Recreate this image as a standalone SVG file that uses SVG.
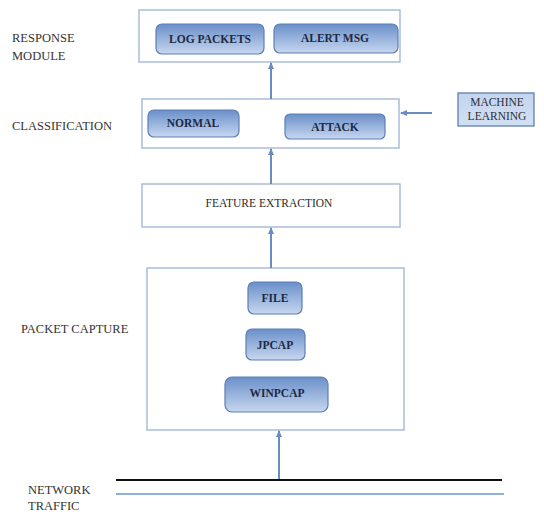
<svg xmlns="http://www.w3.org/2000/svg" width="544" height="512" viewBox="0 0 544 512">
<defs>
<linearGradient id="g" x1="0" y1="0" x2="0" y2="1">
<stop offset="0" stop-color="#6a8fc9"/>
<stop offset="1" stop-color="#c7d7ef"/>
</linearGradient>
<linearGradient id="ml" x1="0" y1="0" x2="0" y2="1">
<stop offset="0" stop-color="#c3d4ee"/>
<stop offset="1" stop-color="#d3e0f3"/>
</linearGradient>
<marker id="ah" markerWidth="8" markerHeight="8" refX="6" refY="4" orient="auto" markerUnits="userSpaceOnUse">
<path d="M0,1 L7,4 L0,7 Z" fill="#6a8cc0"/>
</marker>
<style>
.outer{fill:#fff;stroke:#a9bdd8;stroke-width:1.5}
.inner{fill:url(#g);stroke:#5b7fb5;stroke-width:1.2}
.it{font-family:'Liberation Serif','DejaVu Serif',serif;font-size:11.5px;font-weight:bold;fill:#1c2a44;text-anchor:middle}
.lab{font-family:'Liberation Serif','DejaVu Serif',serif;font-size:12.5px;fill:#333}
.ml{font-family:'Liberation Serif','DejaVu Serif',serif;font-size:11.5px;fill:#2a2f3a;text-anchor:middle}
.conn{stroke:#6a8cc0;stroke-width:2;fill:none;marker-end:url(#ah)}
</style>
</defs>
<rect width="544" height="512" fill="#fff"/>

<g id="labels">
<text class="lab" x="12" y="42">RESPONSE</text>
<text class="lab" x="12" y="60">MODULE</text>
<text class="lab" x="12" y="130">CLASSIFICATION</text>
<text class="lab" x="21" y="333">PACKET CAPTURE</text>
<text class="lab" x="28" y="494">NETWORK</text>
<text class="lab" x="28" y="510">TRAFFIC</text>
</g>

<g id="response-module">
<rect class="outer" x="139" y="10" width="261" height="52"/>
<g id="log-packets">
<rect class="inner" x="156" y="24" width="108" height="30" rx="6"/>
<text class="it" x="210" y="43">LOG PACKETS</text>
</g>
<g id="alert-msg">
<rect class="inner" x="274" y="24" width="124" height="29" rx="6"/>
<text class="it" x="335" y="42">ALERT MSG</text>
</g>
</g>

<g id="classification">
<rect class="outer" x="142" y="99" width="257" height="49"/>
<g id="normal">
<rect class="inner" x="148" y="110" width="91" height="27" rx="6"/>
<text class="it" x="193" y="127">NORMAL</text>
</g>
<g id="attack">
<rect class="inner" x="285" y="114" width="100" height="25" rx="5"/>
<text class="it" x="335" y="131">ATTACK</text>
</g>
</g>

<g id="machine-learning">
<rect x="458" y="93" width="76" height="33" fill="url(#ml)" stroke="#5f7fae" stroke-width="1.3"/>
<text class="ml" x="497" y="106">MACHINE</text>
<text class="ml" x="497" y="120">LEARNING</text>
</g>

<g id="feature-extraction">
<rect class="outer" x="142" y="184" width="258" height="43"/>
<text class="lab" x="269" y="207" text-anchor="middle" style="font-size:11.5px;fill:#2a2a2a">FEATURE EXTRACTION</text>
</g>

<g id="packet-capture">
<rect class="outer" x="147" y="268" width="257" height="162"/>
<g id="file">
<rect class="inner" x="248" y="282" width="54" height="32" rx="6"/>
<text class="it" x="275" y="302">FILE</text>
</g>
<g id="jpcap">
<rect class="inner" x="246" y="329" width="59" height="31" rx="6"/>
<text class="it" x="275" y="349">JPCAP</text>
</g>
<g id="winpcap">
<rect class="inner" x="225" y="377" width="103" height="35" rx="7"/>
<text class="it" x="277" y="397">WINPCAP</text>
</g>
</g>

<g id="network-traffic">
<line x1="116" y1="480" x2="502" y2="480" stroke="#111" stroke-width="2.2"/>
<line x1="116" y1="494" x2="504" y2="494" stroke="#8fb0d8" stroke-width="2.2"/>
</g>

<g id="connectors">
<line class="conn" x1="271" y1="99" x2="271" y2="63"/>
<line class="conn" x1="271" y1="184" x2="271" y2="149"/>
<line class="conn" x1="271" y1="268" x2="271" y2="228"/>
<line class="conn" x1="279" y1="479" x2="279" y2="431"/>
<line class="conn" x1="432" y1="113" x2="401" y2="113"/>
</g>
</svg>
